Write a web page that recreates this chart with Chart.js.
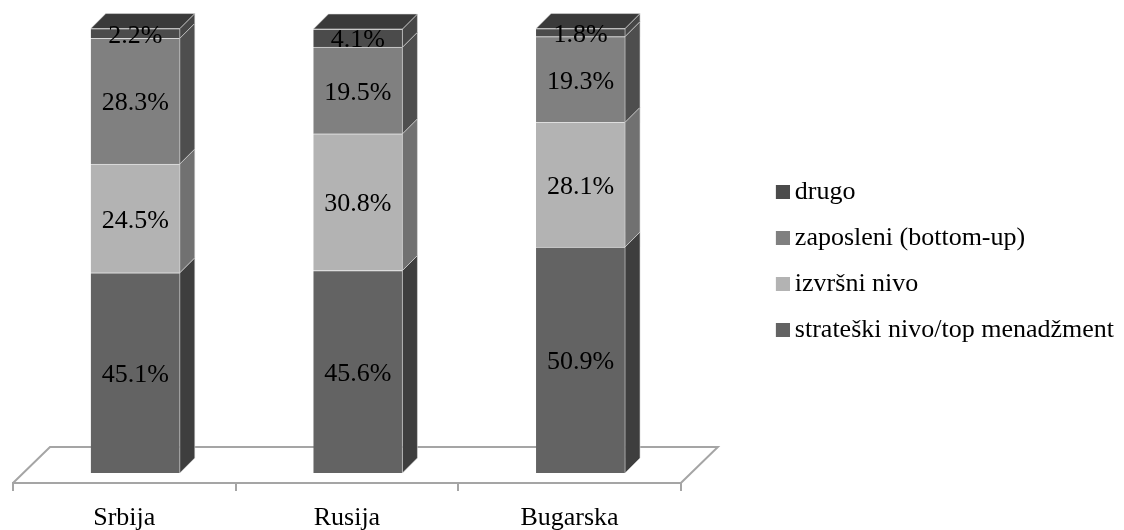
<!DOCTYPE html>
<html>
<head>
<meta charset="utf-8">
<script src="https://cdn.jsdelivr.net/npm/chart.js@4/dist/chart.umd.min.js"></script>
<style>
  html, body { margin: 0; padding: 0; background: #ffffff; }
  canvas { display: block; }
</style>
</head>
<body>
<canvas id="chart" width="1124" height="530"></canvas>
<script>
// Categories and series (percent shares, bottom to top of each column)
const countries = ['Srbija', 'Rusija', 'Bugarska'];
const seriesNames = ['strateški nivo/top menadžment', 'izvršni nivo', 'zaposleni (bottom-up)', 'drugo'];
const strateski = [45.1, 45.6, 50.9];
const izvrsni = [24.5, 30.8, 28.1];
const zaposleni = [28.3, 19.5, 19.3];
const drugo = [2.2, 4.1, 1.8];
const seriesValues = [strateski, izvrsni, zaposleni, drugo];

// Styling
const frontColors = ['#636363', '#b3b3b3', '#808080', '#4b4b4b'];
const sideColors = ['#3e3e3e', '#717171', '#4e4e4e', '#464646'];
const topColor = '#3a3a3a';
const floorColor = '#a5a5a5';
const FONT = "'Liberation Serif', 'Times New Roman', serif";
const COLUMN_DEPTH = 15;   // receding depth of each column
const COLUMN_SHIFT_X = 11; // columns stand back from the floor's front edge
const COLUMN_SHIFT_Y = 10;
const FLOOR_DEPTH = 36;

// Legend swatch: a square sitting at the right end of a wider transparent strip
function swatch(color) {
  const c = document.createElement('canvas');
  c.width = 97; c.height = 14;
  const g = c.getContext('2d');
  g.fillStyle = color;
  g.fillRect(83, 0, 14, 14);
  return c;
}
const swatches = frontColors.map(swatch);

// Floor, receding faces, top face and value labels for the 3D columns
const columns3d = {
  id: 'columns3d',
  beforeDatasetsDraw(chart) {
    const { ctx, scales: { x } } = chart;
    const yb = chart.chartArea.bottom;
    ctx.save();
    ctx.strokeStyle = floorColor;
    ctx.lineWidth = 2;
    ctx.lineJoin = 'miter';
    ctx.beginPath();
    ctx.moveTo(x.left, yb);
    ctx.lineTo(x.left + FLOOR_DEPTH + 1, yb - FLOOR_DEPTH);
    ctx.lineTo(x.right + FLOOR_DEPTH + 1, yb - FLOOR_DEPTH);
    ctx.lineTo(x.right, yb);
    ctx.stroke();
    ctx.restore();
    // columns are drawn set back into the floor
    ctx.save();
    ctx.translate(COLUMN_SHIFT_X, -COLUMN_SHIFT_Y);
  },
  afterDatasetsDraw(chart) {
    const ctx = chart.ctx;
    const n = chart.data.datasets.length;
    const d = COLUMN_DEPTH;
    ctx.strokeStyle = 'rgba(225,225,225,0.55)';
    ctx.lineWidth = 1;
    chart.data.datasets.forEach((ds, di) => {
      const meta = chart.getDatasetMeta(di);
      meta.data.forEach(bar => {
        const { x, y, base, width } = bar.getProps(['x', 'y', 'base', 'width'], true);
        const l = x - width / 2, r = x + width / 2;
        // right-hand receding face
        ctx.fillStyle = sideColors[di];
        ctx.beginPath();
        ctx.moveTo(r, base);
        ctx.lineTo(r + d, base - d);
        ctx.lineTo(r + d, y - d);
        ctx.lineTo(r, y);
        ctx.closePath();
        ctx.fill();
        ctx.stroke();
        // top face on the highest segment
        if (di === n - 1) {
          ctx.fillStyle = topColor;
          ctx.beginPath();
          ctx.moveTo(l, y);
          ctx.lineTo(l + d, y - d);
          ctx.lineTo(r + d, y - d);
          ctx.lineTo(r, y);
          ctx.closePath();
          ctx.fill();
          ctx.stroke();
        }
      });
    });
    // value labels in the middle of each front face
    ctx.fillStyle = '#000000';
    ctx.font = '26px ' + FONT;
    ctx.textAlign = 'center';
    ctx.textBaseline = 'middle';
    chart.data.datasets.forEach((ds, di) => {
      const meta = chart.getDatasetMeta(di);
      meta.data.forEach((bar, i) => {
        const { x, y, base } = bar.getProps(['x', 'y', 'base'], true);
        ctx.fillText(ds.data[i].toFixed(1) + '%', x, (y + base) / 2 + 2.5);
      });
    });
    ctx.restore();
  }
};

const datasets = seriesNames.map((name, i) => ({
  label: name,
  data: seriesValues[i],
  backgroundColor: frontColors[i],
  borderColor: 'rgba(210,210,210,0.6)',
  borderWidth: { top: 1, left: 0, right: 0, bottom: 0 },
  borderSkipped: false,
  barThickness: 89,
  clip: false
}));

new Chart(document.getElementById('chart'), {
  type: 'bar',
  data: { labels: countries, datasets },
  options: {
    responsive: false,
    animation: false,
    devicePixelRatio: 1,
    layout: { padding: { left: 13, right: 0, top: 39, bottom: 0 } },
    plugins: {
      tooltip: { enabled: false },
      legend: {
        position: 'right',
        fullSize: false,
        reverse: true,
        labels: {
          usePointStyle: true,
          pointStyleWidth: 81,
          boxHeight: 14,
          padding: 20,
          color: '#000000',
          font: { family: FONT, size: 26 },
          generateLabels(chart) {
            const items = Chart.defaults.plugins.legend.labels.generateLabels(chart);
            items.forEach(it => { it.pointStyle = swatches[it.datasetIndex]; });
            return items;
          }
        }
      }
    },
    scales: {
      x: {
        stacked: true,
        offset: true,
        grid: {
          display: true,
          offset: true,
          drawOnChartArea: false,
          drawTicks: true,
          tickLength: 8,
          color: floorColor,
          lineWidth: 2
        },
        border: { display: true, color: floorColor, width: 2 },
        ticks: {
          color: '#000000',
          font: { family: FONT, size: 26 },
          padding: 12,
          maxRotation: 0
        },
        afterFit(scale) { scale.height = 47; }
      },
      y: {
        stacked: true,
        display: false,
        min: 0,
        max: 100
      }
    }
  },
  plugins: [columns3d]
});
</script>
</body>
</html>
